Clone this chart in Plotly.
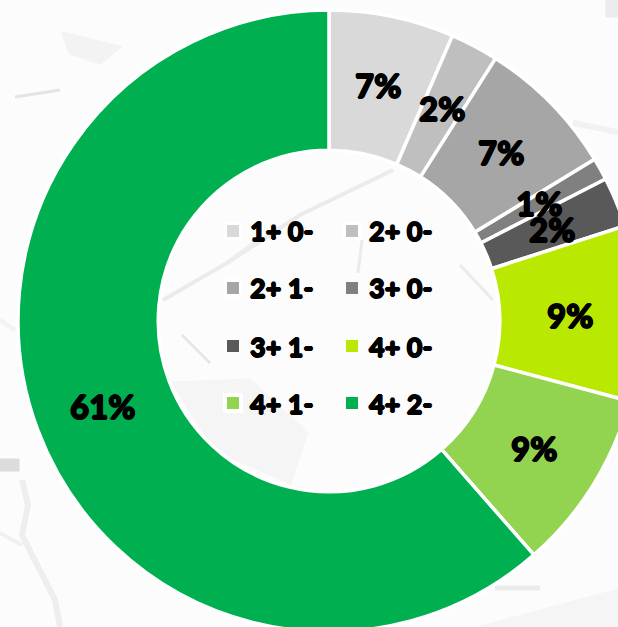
import math
import plotly.graph_objects as go

labels = ["1+ 0-", "2+ 0-", "2+ 1-", "3+ 0-", "3+ 1-", "4+ 0-", "4+ 1-", "4+ 2-"]
values = [6.5, 2.5, 7.3, 1.15, 2.6, 9.1, 9.4, 61.45]
shown = ["7%", "2%", "7%", "1%", "2%", "9%", "9%", "61%"]
colors = ["#d9d9d9", "#bfbfbf", "#a6a6a6", "#808080", "#595959", "#b9e900", "#92d350", "#00b050"]

W, H = 660, 660
CX, CY, R = 329, 321, 311
HEAVY = "0.8px 0 0 #000, -0.8px 0 0 #000, 0 0.6px 0 #000, 0 -0.6px 0 #000"
FONT = dict(family="Lato", size=33, color="#000000", weight=900, shadow=HEAVY)
LEG_FONT = dict(family="Lato", size=27, color="#000000", weight=900, shadow=HEAVY)

def px(x): return x / W
def py(y): return 1 - y / H

fig = go.Figure(go.Pie(
    labels=labels, values=values, sort=False, direction="clockwise", rotation=0,
    hole=0.549, textinfo="none", hoverinfo="label+percent", showlegend=False,
    marker=dict(colors=colors, line=dict(color="#ffffff", width=3.5)),
    domain=dict(x=[(CX - R) / W, (CX + R) / W], y=[1 - (CY + R) / H, 1 - (CY - R) / H]),
))

annotations = []
cum = 0
total = sum(values)
for v, t in zip(values, shown):
    a = 2 * math.pi * (cum + v / 2) / total
    cum += v
    r = 241
    annotations.append(dict(x=px(CX + r * math.sin(a)), y=py(CY - r * math.cos(a)),
                            xref="paper", yref="paper", xanchor="center", yanchor="middle",
                            text=t, showarrow=False, font=FONT))

shapes = []
col_x = [233, 352]
col_r = [315, 434]
row_y = [231, 288, 346, 403]
halo = [9, 9, 9, 6, 6, 6, 10, 6]
for i, (lab, c) in enumerate(zip(labels, colors)):
    cx, cy = col_x[i % 2], row_y[i // 2]
    h = halo[i]
    shapes.append(dict(type="rect", layer="above", xref="paper", yref="paper",
                       x0=px(cx - h), x1=px(cx + h), y0=py(cy + h), y1=py(cy - h),
                       fillcolor="#ffffff", line_width=0))
    shapes.append(dict(type="rect", layer="above", xref="paper", yref="paper",
                       x0=px(cx - 6), x1=px(cx + 6), y0=py(cy + 6), y1=py(cy - 6),
                       fillcolor=c, line_width=0))
    annotations.append(dict(x=px(col_r[i % 2]), y=py(cy), xref="paper", yref="paper",
                            xanchor="right", yanchor="middle", text=lab.replace(" ", "&nbsp;"),
                            showarrow=False, font=LEG_FONT))

# faint map behind the chart
patches = [
    ([(173, 383), (250, 380), (307, 433), (290, 483), (215, 450)], "#f5f5f5"),
    ([(63, 33), (120, 47), (100, 63), (70, 53)], "#f3f3f3"),
    ([(0, 460), (18, 460), (18, 470), (0, 470)], "#dcdcdc"),
    ([(480, 627), (618, 590), (618, 627)], "#f5f5f5"),
    ([(607, 0), (618, 0), (618, 16), (607, 16)], "#ececec"),
]
roads = [
    ([(163, 300), (227, 263), (300, 215), (393, 170)], "#ebebeb", 4),
    ([(227, 263), (262, 237)], "#ededed", 4),
    ([(460, 265), (493, 300)], "#ebebeb", 3),
    ([(182, 335), (210, 363)], "#e6e6e6", 3),
    ([(362, 240), (358, 273)], "#ebebeb", 3),
    ([(15, 97), (60, 90)], "#e4e4e4", 3),
    ([(22, 480), (28, 505), (22, 535), (55, 600), (60, 627)], "#eeeeee", 6),
    ([(0, 533), (22, 545)], "#f0f0f0", 4),
    ([(573, 123), (618, 132)], "#f2f2f2", 6),
    ([(80, 487), (100, 475), (115, 500)], "#f5f5f5", 5),
    ([(495, 588), (540, 588)], "#ebebeb", 5),
    ([(15, 330), (0, 320)], "#f3f3f3", 5),
]
for pts, c in patches:
    d = "M" + " L".join(f"{px(x)},{py(y)}" for x, y in pts) + " Z"
    shapes.append(dict(type="path", layer="below", xref="paper", yref="paper", path=d,
                       fillcolor=c, line=dict(color=c, width=3)))
for pts, c, w in roads:
    d = "M" + " L".join(f"{px(x)},{py(y)}" for x, y in pts)
    shapes.append(dict(type="path", layer="below", xref="paper", yref="paper", path=d,
                       line=dict(color=c, width=w)))

fig.update_layout(width=W, height=H, margin=dict(l=0, r=0, t=0, b=0),
                  paper_bgcolor="#fcfcfc", plot_bgcolor="#fcfcfc",
                  shapes=shapes, annotations=annotations)
fig.write_html("out.html", config=dict(displayModeBar=False),
               post_script="document.body.style.margin='0';document.documentElement.style.overflow='hidden';document.body.style.overflow='hidden';")
